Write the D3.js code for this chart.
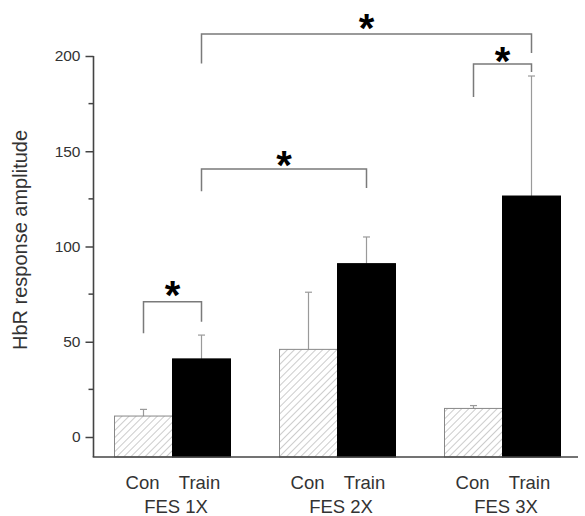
<!DOCTYPE html>
<html><head><meta charset="utf-8">
<script src="https://cdn.jsdelivr.net/npm/d3@7"></script>
<style>body{margin:0;background:#fff}svg{display:block}</style>
</head><body><svg id="c" width="585" height="516"></svg>
<script>
const groups = ["FES 1X", "FES 2X", "FES 3X"];
const series = ["Con", "Train"];
const conValues = [11, 46, 15];
const trainValues = [41, 91, 126.5];
const conErrTop = [14.5, 76, 16.5];
const trainErrTop = [53.5, 105, 189.5];
const yTicks = [0, 50, 100, 150, 200];
const yMinorTicks = [25, 75, 125, 175];
// significance brackets: [group, series] -> [group, series], level, left leg end, right leg end
const brackets = [
  {from: [0, "Con"], to: [0, "Train"], level: 71, leftEnd: 54.5, rightEnd: 60.5},
  {from: [0, "Train"], to: [1, "Train"], level: 140.7, leftEnd: 129, rightEnd: 130.7},
  {from: [0, "Train"], to: [2, "Train"], level: 211.5, leftEnd: 196, rightEnd: 201.6},
  {from: [2, "Con"], to: [2, "Train"], level: 195.8, leftEnd: 178.5, rightEnd: 191.6}
];
const starLevels = [79, 147, 219, 201.5];

const svg = d3.select("#c");
const axisX = 93.5, yBase = 457;
const y = d3.scaleLinear().domain([0, 200]).range([437, 56]);
const x0 = d3.scaleBand().domain(groups).range([89.5, 584.5]);
const x1 = d3.scaleBand().domain(series).range([25, 141]);
const cx = (g, s) => x0(groups[g]) + x1(s) + x1.bandwidth() / 2;

const defs = svg.append("defs");
const pat = defs.append("pattern").attr("id", "hatch").attr("patternUnits", "userSpaceOnUse")
  .attr("width", 5).attr("height", 5).attr("patternTransform", "rotate(45)");
pat.append("rect").attr("width", 5).attr("height", 5).attr("fill", "#fff");
pat.append("line").attr("x1", 0).attr("y1", 0).attr("x2", 0).attr("y2", 5)
  .attr("stroke", "#b0b0b0").attr("stroke-width", 1.3);

// error bars (upward only)
const bars = [];
groups.forEach((g, i) => {
  bars.push({g, i, s: "Con", v: conValues[i], e: conErrTop[i]});
  bars.push({g, i, s: "Train", v: trainValues[i], e: trainErrTop[i]});
});
const eb = svg.append("g").attr("stroke", "#9a9a9a").attr("stroke-width", 1.2);
bars.forEach(b => {
  const c = cx(b.i, b.s);
  eb.append("line").attr("x1", c).attr("x2", c).attr("y1", y(b.v)).attr("y2", y(b.e));
  eb.append("line").attr("x1", c - 3.5).attr("x2", c + 3.5).attr("y1", y(b.e)).attr("y2", y(b.e));
});

// bars
svg.append("g").selectAll("rect").data(bars).join("rect")
  .attr("x", d => x0(d.g) + x1(d.s))
  .attr("width", x1.bandwidth())
  .attr("y", d => y(d.v))
  .attr("height", d => yBase - y(d.v))
  .attr("fill", d => d.s === "Con" ? "url(#hatch)" : "#000")
  .attr("stroke", d => d.s === "Con" ? "#888" : "#000")
  .attr("stroke-width", 1);

// axes
const yAxis = d3.axisLeft(y).tickValues(yTicks).tickSize(8).tickPadding(5).tickSizeOuter(0);
const ga = svg.append("g").attr("transform", `translate(${axisX},0)`).call(yAxis);
ga.select(".domain").remove();
ga.selectAll(".tick line").attr("stroke", "#444").attr("stroke-width", 1.5);
ga.selectAll(".tick text").attr("fill", "#333").style("font", "15.5px 'Liberation Sans', Arial, sans-serif");
ga.selectAll(".minor").data(yMinorTicks).join("line").attr("class", "minor")
  .attr("x1", -5).attr("x2", 0).attr("y1", d => y(d)).attr("y2", d => y(d))
  .attr("stroke", "#444").attr("stroke-width", 1.5);
svg.append("line").attr("x1", axisX).attr("x2", axisX).attr("y1", y(200)).attr("y2", yBase)
  .attr("stroke", "#444").attr("stroke-width", 1.6);
svg.append("line").attr("x1", axisX - 0.8).attr("x2", 578).attr("y1", yBase).attr("y2", yBase)
  .attr("stroke", "#444").attr("stroke-width", 1.6);

// y label
svg.append("text").attr("transform", "translate(27,240) rotate(-90)")
  .attr("text-anchor", "middle").attr("fill", "#333")
  .style("font", "20px 'Liberation Sans', Arial, sans-serif")
  .text("HbR response amplitude");

// category labels
const lab = svg.append("g").attr("fill", "#333").style("font", "18.5px 'Liberation Sans', Arial, sans-serif").attr("text-anchor", "middle");
groups.forEach((g, i) => {
  series.forEach(s => {
    lab.append("text").attr("x", cx(i, s) + (s === "Con" ? -1 : -2)).attr("y", 489).text(s);
  });
  lab.append("text").attr("x", x0(g) + x0.bandwidth() / 2 + 4).attr("y", 513).text(g);
});

// brackets
const bk = svg.append("g").attr("fill", "none").attr("stroke", "#7a7a7a").attr("stroke-width", 1.5);
brackets.forEach((b, k) => {
  const xa = cx(b.from[0], b.from[1]), xb = cx(b.to[0], b.to[1]);
  bk.append("path").attr("d", `M${xa},${y(b.leftEnd)}V${y(b.level)}H${xb}V${y(b.rightEnd)}`);
  svg.append("text").attr("x", (xa + xb) / 2).attr("y", y(starLevels[k]) + 22)
    .attr("text-anchor", "middle").attr("fill", "#000")
    .style("font", "bold 40px 'Liberation Sans', Arial, sans-serif").text("*");
});
</script></body></html>
